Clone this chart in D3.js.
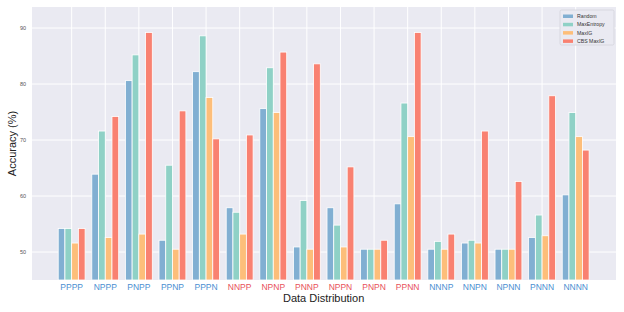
<!DOCTYPE html>
<html>
<head>
<meta charset="utf-8">
<script src="https://cdn.jsdelivr.net/npm/d3@7"></script>
<style>
  body { margin: 0; background: #fff; }
  svg { display: block; font-family: "Liberation Sans", Arial, sans-serif; }
</style>
</head>
<body>
<div id="chart"></div>
<script>
// categories and series
var categories = ["PPPP", "NPPP", "PNPP", "PPNP", "PPPN", "NNPP", "NPNP", "PNNP",
  "NPPN", "PNPN", "PPNN", "NNNP", "NNPN", "NPNN", "PNNN", "NNNN"];
var labelGroup = ["b", "b", "b", "b", "b", "r", "r", "r", "r", "r", "r", "b", "b", "b", "b", "b"];
var seriesNames = ["Random", "MaxEntropy", "MaxIG", "CBS MaxIG"];
var random     = [54.2, 63.9, 80.6, 52.1, 82.2, 57.9, 75.6, 50.9, 57.9, 50.5, 58.6, 50.5, 51.6, 50.5, 52.6, 60.2];
var maxEntropy = [54.2, 71.6, 85.2, 65.5, 88.6, 57.1, 82.9, 59.2, 54.8, 50.5, 76.6, 51.9, 52.1, 50.5, 56.6, 74.9];
var maxIG      = [51.6, 52.6, 53.2, 50.5, 77.6, 53.2, 74.9, 50.5, 50.9, 50.5, 70.6, 50.5, 51.6, 50.5, 52.9, 70.6];
var cbsMaxIG   = [54.2, 74.2, 89.2, 75.2, 70.2, 70.9, 85.7, 83.6, 65.2, 52.1, 89.2, 53.2, 71.6, 62.6, 77.9, 68.2];
var yTicks = [50, 60, 70, 80, 90];

var series = [random, maxEntropy, maxIG, cbsMaxIG];
var colors = ["#81afd2", "#8fd1c6", "#fdbe7a", "#f98171"];
var tickColors = { b: "#4b8fd1", r: "#e8505a" };

var width = 624, height = 312;
var margin = { top: 7, right: 8, bottom: 32, left: 32 };
var pw = width - margin.left - margin.right;
var ph = height - margin.top - margin.bottom;

var svg = d3.select("#chart").append("svg")
  .attr("width", width)
  .attr("height", height);

var g = svg.append("g")
  .attr("transform", "translate(" + margin.left + "," + margin.top + ")");

// x positions: category index, with some empty room on both sides
var x = d3.scaleLinear().domain([-1.18, 16.2]).range([0, pw]);
var y = d3.scaleLinear().domain([45, 93.75]).range([ph, 0]);
var barW = x(0.2) - x(0);

g.append("rect")
  .attr("width", pw).attr("height", ph)
  .attr("fill", "#eaeaf2");

// grid
g.selectAll(".hgrid").data(yTicks).enter().append("line")
  .attr("x1", 0).attr("x2", pw)
  .attr("y1", d => y(d)).attr("y2", d => y(d))
  .attr("stroke", "#fff").attr("stroke-width", 1);

g.selectAll(".vgrid").data(categories).enter().append("line")
  .attr("x1", (d, i) => x(i)).attr("x2", (d, i) => x(i))
  .attr("y1", 0).attr("y2", ph)
  .attr("stroke", "#fff").attr("stroke-width", 1);

// bars
series.forEach(function (vals, s) {
  g.selectAll(".bar" + s).data(vals).enter().append("rect")
    .attr("x", (d, i) => x(i) + (s - 2) * barW)
    .attr("width", barW)
    .attr("y", d => y(d))
    .attr("height", d => ph - y(d))
    .attr("fill", colors[s])
    .attr("stroke", "#fff")
    .attr("stroke-width", 0.8);
});

// y axis ticks
g.selectAll(".ytick").data(yTicks).enter().append("text")
  .attr("x", -6).attr("y", d => y(d))
  .attr("dy", "0.35em")
  .attr("text-anchor", "end")
  .attr("font-size", 5.5)
  .attr("fill", "#555")
  .text(d => d);

// x tick labels
g.selectAll(".xtick").data(categories).enter().append("text")
  .attr("x", (d, i) => x(i)).attr("y", ph + 10)
  .attr("text-anchor", "middle")
  .attr("font-size", 8.5)
  .attr("fill", (d, i) => tickColors[labelGroup[i]])
  .text(d => d);

// axis titles
svg.append("text")
  .attr("x", margin.left + x(7.5)).attr("y", 302)
  .attr("text-anchor", "middle")
  .attr("font-size", 11)
  .attr("fill", "#222")
  .text("Data Distribution");

svg.append("text")
  .attr("transform", "translate(16," + (margin.top + ph / 2) + ") rotate(-90)")
  .attr("text-anchor", "middle")
  .attr("font-size", 11)
  .attr("fill", "#222")
  .text("Accuracy (%)");

// legend
var lg = g.append("g").attr("transform", "translate(" + (pw - 56) + ",3)");
lg.append("rect")
  .attr("width", 54).attr("height", 35)
  .attr("fill", "#eaeaf2").attr("stroke", "#d8d8e0").attr("rx", 1.5);
seriesNames.forEach(function (n, s) {
  lg.append("rect")
    .attr("x", 3).attr("y", 4.5 + s * 8.3)
    .attr("width", 10).attr("height", 3.5)
    .attr("fill", colors[s]);
  lg.append("text")
    .attr("x", 17).attr("y", 6.3 + s * 8.3)
    .attr("dy", "0.35em")
    .attr("font-size", 5.2)
    .attr("fill", "#333")
    .text(n);
});
</script>
</body>
</html>
